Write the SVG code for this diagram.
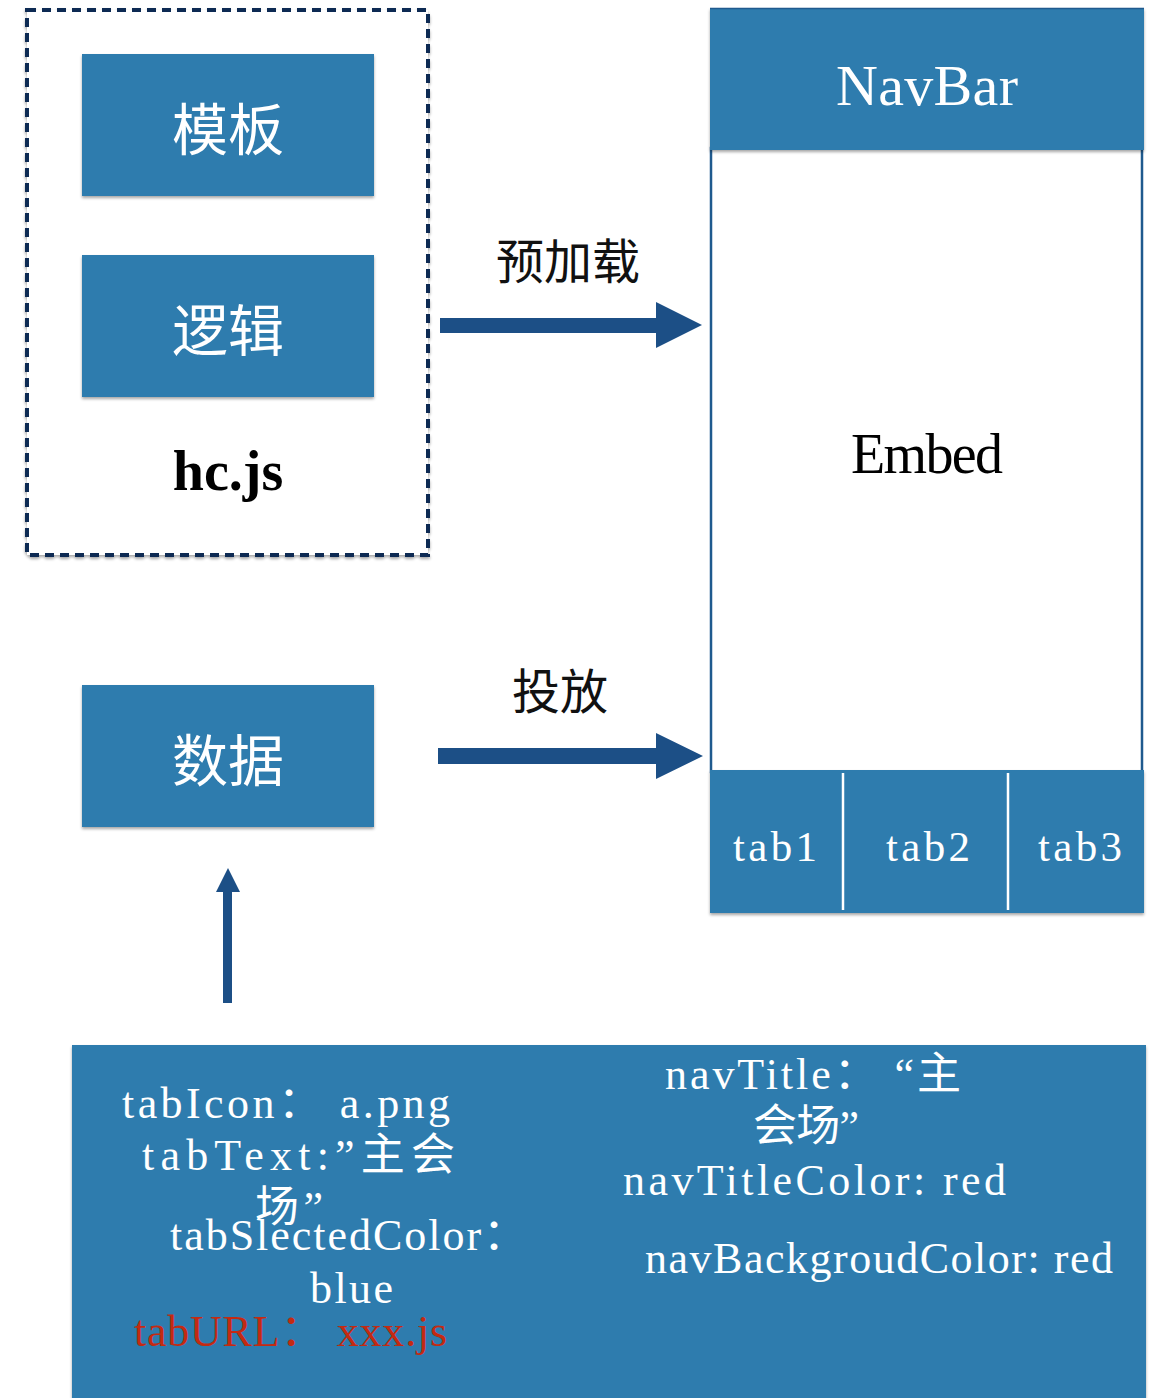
<svg xmlns="http://www.w3.org/2000/svg" width="1162" height="1398" viewBox="0 0 1162 1398">
<style>
.box{fill:#2e7cae;}
.cjkw{font-family:"Noto Sans CJK SC",sans-serif;fill:#ffffff;font-size:56px;text-anchor:middle;}
.cjkb{font-family:"Noto Sans CJK SC",sans-serif;fill:#111111;font-size:48px;text-anchor:middle;}
.mono{font-family:"Liberation Serif","Noto Sans CJK SC",serif;}
.wt{fill:#ffffff;}
.arrow{fill:#1c4f86;}
.code{font-family:"Liberation Serif","Noto Sans CJK SC",serif;font-size:44px;fill:#ffffff;}
</style>
<defs>
<filter id="sh" x="-5%" y="-5%" width="110%" height="115%">
<feDropShadow dx="0" dy="2" stdDeviation="1.5" flood-color="#000" flood-opacity="0.35"/>
</filter>
</defs>
<rect width="1162" height="1398" fill="#ffffff"/>

<g id="hcjs">
<rect x="27" y="10" width="401" height="545" fill="#ffffff" stroke="#0e2a52" stroke-width="4" stroke-dasharray="9 6" filter="url(#sh)"/>
<text x="228" y="490" font-family="Liberation Serif, serif" font-weight="bold" font-size="56" text-anchor="middle" fill="#000">hc.js</text>
</g>
<g id="template">
<rect class="box" x="82" y="54" width="292" height="142" filter="url(#sh)"/>
<text class="cjkw" x="228" y="150">模板</text>
</g>
<g id="logic">
<rect class="box" x="82" y="255" width="292" height="142" filter="url(#sh)"/>
<text class="cjkw" x="228" y="351">逻辑</text>
</g>
<g id="data">
<rect class="box" x="82" y="685" width="292" height="142" filter="url(#sh)"/>
<text class="cjkw" x="228" y="781">数据</text>
</g>

<g id="phone">
<rect x="711" y="148" width="431" height="624" fill="#ffffff" stroke="#1f5a8e" stroke-width="2.5"/>
<text x="927" y="473" class="mono" font-size="56" text-anchor="middle" fill="#000" textLength="152" lengthAdjust="spacing">Embed</text>
</g>
<g id="navbar">
<rect class="box" x="710" y="8" width="434" height="142" filter="url(#sh)"/>
<line x1="710" y1="8.5" x2="1144" y2="8.5" stroke="#1f5a8e" stroke-width="1.5"/>
<text x="927" y="105" class="mono wt" font-size="58" text-anchor="middle" textLength="182" lengthAdjust="spacing">NavBar</text>
</g>
<g id="tabbar">
<rect class="box" x="710" y="770" width="434" height="143" filter="url(#sh)"/>
<line x1="843" y1="773" x2="843" y2="910" stroke="#ffffff" stroke-width="2.5"/>
<line x1="1008" y1="773" x2="1008" y2="910" stroke="#ffffff" stroke-width="2.5"/>
<text x="775" y="861" class="mono wt" font-size="43" text-anchor="middle" textLength="84" lengthAdjust="spacing">tab1</text>
<text x="928" y="861" class="mono wt" font-size="43" text-anchor="middle" textLength="84" lengthAdjust="spacing">tab2</text>
<text x="1080" y="861" class="mono wt" font-size="43" text-anchor="middle" textLength="84" lengthAdjust="spacing">tab3</text>
</g>

<g id="config">
<rect class="box" x="72" y="1045" width="1074" height="360" filter="url(#sh)"/>
<text class="code" x="122" y="1118" textLength="328" lengthAdjust="spacing">tabIcon： a.png</text>
<text class="code" x="142" y="1170" textLength="313" lengthAdjust="spacing">tabText:”主会</text>
<text class="code" x="255" y="1222" textLength="68" lengthAdjust="spacing">场”</text>
<text class="code" x="170" y="1250" textLength="357" lengthAdjust="spacing">tabSlectedColor：</text>
<text class="code" x="310" y="1303" textLength="83" lengthAdjust="spacing">blue</text>
<text class="code" x="134" y="1346" style="fill:#c32a12" textLength="313" lengthAdjust="spacing">tabURL： xxx.js</text>
<text class="code" x="665" y="1089" textLength="296" lengthAdjust="spacing">navTitle： “主</text>
<text class="code" x="753" y="1141" textLength="106" lengthAdjust="spacing">会场”</text>
<text class="code" x="623" y="1195" textLength="383" lengthAdjust="spacing">navTitleColor: red</text>
<text class="code" x="645" y="1273" textLength="468" lengthAdjust="spacing">navBackgroudColor: red</text>
</g>

<g id="connectors">
<polygon class="arrow" points="440,318 656,318 656,302 702,325 656,348 656,333 440,333"/>
<text class="cjkb" x="568" y="279">预加载</text>
<polygon class="arrow" points="438,748 656,748 656,733 703,756 656,779 656,764 438,764"/>
<text class="cjkb" x="560" y="709">投放</text>
<polygon class="arrow" points="223,1003 232,1003 232,892 240,892 228,868 216,892 223,892"/>
</g>
</svg>
